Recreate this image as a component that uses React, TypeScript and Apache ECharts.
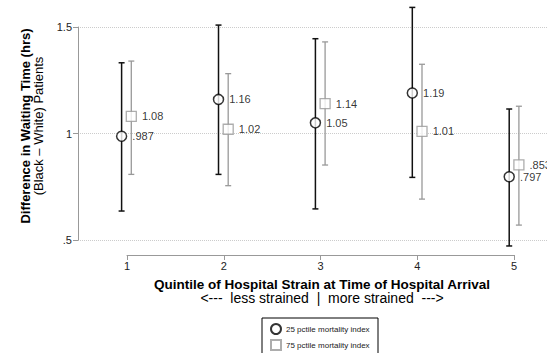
import React, { useEffect, useRef } from "react";
import * as echarts from "echarts";

const quintiles = [1, 2, 3, 4, 5];
const lowEst = [0.987, 1.16, 1.05, 1.19, 0.797];
const lowLo = [0.636, 0.808, 0.646, 0.794, 0.472];
const lowHi = [1.332, 1.509, 1.445, 1.592, 1.115];
const highEst = [1.08, 1.02, 1.14, 1.01, 0.853];
const highLo = [0.808, 0.755, 0.852, 0.692, 0.57];
const highHi = [1.34, 1.281, 1.43, 1.325, 1.128];
const yTicks = [0.5, 1, 1.5];
const yTickLabels = [".5", "1", "1.5"];
const seriesNames = ["25 pctile mortality index", "75 pctile mortality index"];

const FONT = "'Liberation Sans', Arial, Helvetica, sans-serif";
const SHIFT = 0.05;

function fmt(v: number): string {
  let s = v.toPrecision(3);
  if (s.startsWith("0")) s = s.slice(1);
  return s;
}

function errorSeries(xs: number[], lo: number[], hi: number[], color: string, width: number) {
  return {
    type: "custom",
    xAxisIndex: 0,
    yAxisIndex: 0,
    clip: false,
    silent: true,
    z: 2,
    data: xs.map((x, i) => [x, lo[i], hi[i]]),
    renderItem: (params: any, api: any) => {
      const x = api.value(0);
      const p1 = api.coord([x, api.value(1)]);
      const p2 = api.coord([x, api.value(2)]);
      const cap = 3;
      const style = { stroke: color, lineWidth: width };
      return {
        type: "group",
        children: [
          { type: "line", shape: { x1: p1[0], y1: p1[1], x2: p2[0], y2: p2[1] }, style },
          { type: "line", shape: { x1: p1[0] - cap, y1: p1[1], x2: p1[0] + cap, y2: p1[1] }, style },
          { type: "line", shape: { x1: p2[0] - cap, y1: p2[1], x2: p2[0] + cap, y2: p2[1] }, style },
        ],
      };
    },
  };
}

export default function App() {
  const ref = useRef<HTMLDivElement>(null);
  useEffect(() => {
    document.body.style.margin = "0";
    if (!ref.current) return;
    const chart = echarts.init(ref.current, undefined, { renderer: "svg" });
    const xsLow = quintiles.map((q) => q - SHIFT);
    const xsHigh = quintiles.map((q) => q + SHIFT);
    const labelStyle = {
      show: true,
      position: "right",
      distance: 5,
      fontSize: 11,
      fontFamily: FONT,
      color: "#000",
      textBorderWidth: 0,
      formatter: (p: any) => fmt(p.value[1]),
    };
    chart.setOption({
      animation: false,
      backgroundColor: "#fff",
      textStyle: { fontFamily: FONT },
      grid: [
        { left: 78, right: 0, top: 27, bottom: 113 },
        { left: 127, right: 33, top: 27, bottom: 113 },
      ],
      xAxis: [
        { type: "value", gridIndex: 0, min: 0.5, max: 5.34, show: false },
        {
          type: "value",
          gridIndex: 1,
          min: 1,
          max: 5,
          interval: 1,
          offset: 15,
          position: "bottom",
          axisLine: { show: true, lineStyle: { color: "#999", width: 1 } },
          axisTick: { show: true, length: 5, lineStyle: { color: "#999" } },
          axisLabel: { fontSize: 11, color: "#222", fontFamily: FONT, margin: 5 },
          splitLine: { show: false },
        },
      ],
      yAxis: [
        {
          type: "value",
          gridIndex: 0,
          min: 0.5,
          max: 1.5,
          interval: 0.5,
          axisLine: { show: true, lineStyle: { color: "#999", width: 1 } },
          axisTick: { show: true, length: 5, lineStyle: { color: "#999" } },
          axisLabel: {
            fontSize: 11,
            color: "#222",
            fontFamily: FONT,
            margin: 6,
            formatter: (v: number) => {
              const i = yTicks.findIndex((t) => Math.abs(t - v) < 1e-9);
              return i >= 0 ? yTickLabels[i] : "";
            },
          },
          splitLine: { show: true, lineStyle: { color: "#ccc", type: "dotted", width: 1 } },
        },
        { type: "value", gridIndex: 1, min: 0.5, max: 1.5, show: false },
      ],
      legend: {
        data: seriesNames,
        orient: "vertical",
        left: 262,
        top: 318,
        padding: [5, 14, 0, 8],
        itemWidth: 10,
        itemHeight: 10,
        itemGap: 4,
        textStyle: { fontSize: 8, color: "#222", fontFamily: FONT },
      },
      graphic: [
        {
          type: "rect",
          x: 262,
          y: 318,
          z: -1,
          shape: { x: 0, y: 0, width: 116, height: 50 },
          style: { fill: "#fff", stroke: "#000", lineWidth: 1 },
        },
        {
          type: "text",
          x: 25,
          y: 126,
          rotation: Math.PI / 2,
          style: {
            text: "Difference in Waiting Time (hrs)",
            font: `bold 13px ${FONT}`,
            fill: "#000",
            textAlign: "center",
            textVerticalAlign: "middle",
          },
        },
        {
          type: "text",
          x: 38,
          y: 126,
          rotation: Math.PI / 2,
          style: {
            text: "(Black \u2013 White) Patients",
            font: `13px ${FONT}`,
            fill: "#000",
            textAlign: "center",
            textVerticalAlign: "middle",
          },
        },
        {
          type: "text",
          x: 322,
          y: 284,
          style: {
            text: "Quintile of Hospital Strain at Time of Hospital Arrival",
            font: `bold 13.5px ${FONT}`,
            fill: "#000",
            textAlign: "center",
            textVerticalAlign: "middle",
          },
        },
        {
          type: "text",
          x: 322,
          y: 298,
          style: {
            text: "<---  less strained  |  more strained  --->",
            font: `14px ${FONT}`,
            fill: "#000",
            textAlign: "center",
            textVerticalAlign: "middle",
          },
        },
      ],
      series: [
        errorSeries(xsLow, lowLo, lowHi, "#111", 1.5),
        errorSeries(xsHigh, highLo, highHi, "#999", 1.3),
        {
          name: seriesNames[0],
          type: "scatter",
          xAxisIndex: 0,
          yAxisIndex: 0,
          symbol: "circle",
          symbolSize: 10,
          z: 5,
          itemStyle: { color: "#fff", borderColor: "#000", borderWidth: 1.5 },
          label: labelStyle,
          data: xsLow.map((x, i) => [x, lowEst[i]]),
        },
        {
          name: seriesNames[1],
          type: "scatter",
          xAxisIndex: 0,
          yAxisIndex: 0,
          symbol: "rect",
          symbolSize: 10,
          z: 5,
          itemStyle: { color: "#fff", borderColor: "#999", borderWidth: 1.3 },
          label: labelStyle,
          data: xsHigh.map((x, i) => [x, highEst[i]]),
        },
      ],
    });
    return () => chart.dispose();
  }, []);
  return <div ref={ref} style={{ width: 547, height: 353 }} />;
}
